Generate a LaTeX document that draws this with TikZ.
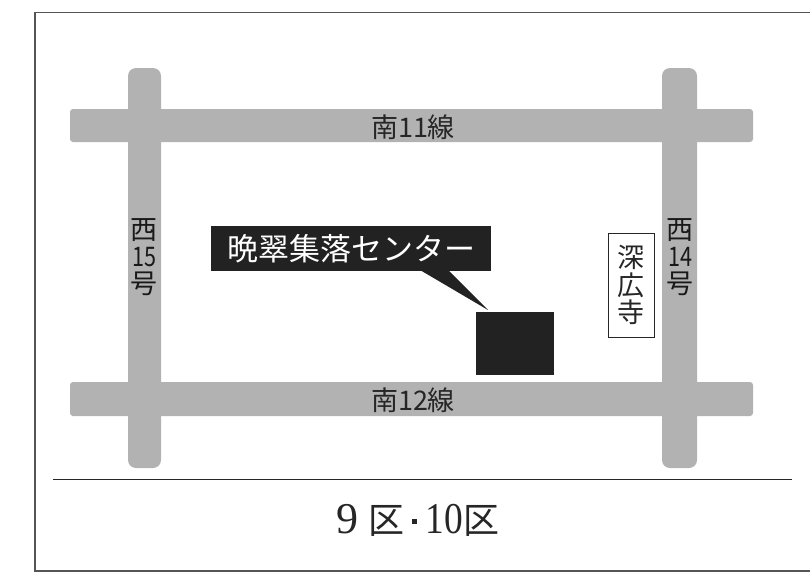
\documentclass[tikz,border=0pt]{standalone}
\usepackage{fontspec}
\setmainfont{Liberation Sans}
\newfontfamily\cjk{Noto Sans CJK JP}
\newfontfamily\serifnum{Liberation Serif}
\definecolor{roadgray}{HTML}{B2B2B2}
\definecolor{blockblack}{HTML}{222222}
\definecolor{framegray}{HTML}{555555}
\newcommand{\narrownum}[1]{\scalebox{0.8}[1]{#1}}
\tikzset{
  road/.style={fill=roadgray,draw=none,rounded corners=#1},
  road/.default=4pt,
  roadtext/.style={text=black!85,inner sep=0pt,font=\cjk\fontsize{27}{27}\selectfont},
  vtext/.style={text=black!90,inner sep=0pt,align=center,font=\cjk\fontsize{27}{27}\selectfont},
}
\begin{document}
\begin{tikzpicture}[x=1pt,y=-1pt]
\useasboundingbox (0,0) rectangle (810,573);
\fill[white] (0,0) rectangle (810,573);
% frame, open at the right
\coordinate (ftr) at (810,12.5);
\coordinate (ftl) at (35,12.5);
\coordinate (fbl) at (35,571);
\coordinate (fbr) at (810,571);
\draw[framegray,line width=1.2pt] (ftr) -- (ftl) -- (fbl) -- (fbr);
% roads
\path[road=8pt] (128,68) rectangle (161,468);
\path[road=8pt] (662,68) rectangle (697,468);
\path[road=3pt] (70,109) rectangle (753,142);
\path[road=3pt] (70,382) rectangle (753,416);
% road labels
\node[roadtext] (n11) at (413,127) {南11線};
\node[roadtext] (n12) at (413,400) {南12線};
\node[vtext] (w15) at (144,257) {西\\\narrownum{15}\\号};
\node[vtext] (w14) at (680,257) {西\\\narrownum{14}\\号};
% temple
\node[draw=black!85,line width=0.7pt,minimum width=46pt,minimum height=104pt,inner sep=0pt,align=center,font=\cjk\fontsize{27}{27.5}\selectfont,text=black!85] (temple) at (631,285) {深\\広\\寺};
% centre block and callout
\node[fill=blockblack,minimum width=78pt,minimum height=63pt,inner sep=0pt] (block) at (515,343.5) {};
\node[fill=blockblack,minimum width=280pt,minimum height=45pt,inner sep=0pt,text=white,font=\cjk\fontsize{31}{31}\selectfont] (label) at (351,248.5) {晩翠集落センター};
\coordinate (tip) at (488,310);
\coordinate (pa) at (420,270);
\coordinate (pb) at (448,270);
\fill[blockblack] (pa) -- (tip) -- (pb) -- cycle;
% bottom rule and district
\coordinate (rl) at (53,479);
\coordinate (rr) at (792,479);
\draw[black!85,line width=0.8pt] (rl) -- (rr);
\node[inner sep=0pt,text=black!85,font=\fontsize{36}{36}\selectfont] (dist) at (418,520) {{\serifnum\fontsize{44}{44}\selectfont 9}\hspace{10pt}{\cjk 区}\hspace{8pt}\raisebox{9pt}{\rule{5pt}{5pt}}\hspace{8pt}{\serifnum\fontsize{44}{44}\selectfont\scalebox{0.85}[1]{10}}\hspace{1pt}{\cjk 区}};
\end{tikzpicture}
\end{document}
